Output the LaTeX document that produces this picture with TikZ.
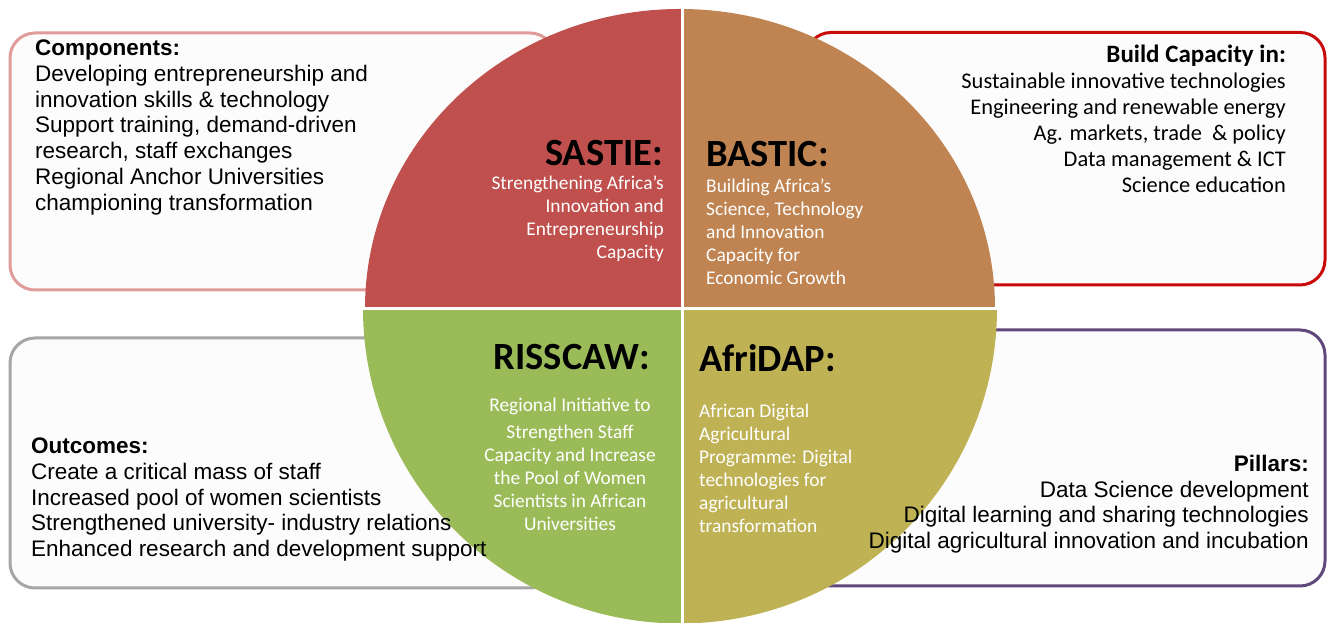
\documentclass[tikz,border=0pt]{standalone}
\usepackage{fontspec}
\setmainfont{Liberation Sans}
\newfontfamily\carlito{Carlito}
\definecolor{sastiec}{HTML}{C0504D}
\definecolor{basticc}{HTML}{BF8451}
\definecolor{risscawc}{HTML}{9BBB59}
\definecolor{afridapc}{HTML}{BFB255}
\definecolor{pinkline}{HTML}{E09C9A}
\definecolor{redline}{HTML}{C80A0A}
\definecolor{greyline}{HTML}{A6A6A6}
\definecolor{purpleline}{HTML}{60497A}
\definecolor{boxfill}{HTML}{FCFCFC}
\begin{document}
\begin{tikzpicture}[x=1pt,y=1pt,
  infobox/.style={draw, line width=3pt, fill=boxfill, rounded corners=25pt, inner sep=0pt, outer sep=0pt, anchor=north west},
  arialtext/.style={inner sep=0pt, font=\fontsize{22.5}{25.75}\selectfont},
  calibritext/.style={inner sep=0pt, font=\carlito\fontsize{22.4}{25.9}\selectfont},
  quadtitle/.style={inner sep=0pt, font=\carlito\bfseries\fontsize{38.5}{40}\selectfont},
  quadsub/.style={inner sep=0pt, text=white, font=\carlito\fontsize{19.4}{23}\selectfont}]
\useasboundingbox (0,0) rectangle (1333,623);
\fill[white] (0,0) rectangle (1333,623);

% side boxes
\node[infobox, draw=pinkline, minimum width=545pt, minimum height=257pt] (compbox) at (10,590) {};
\node[infobox, draw=redline, minimum width=519pt, minimum height=252.5pt] (buildbox) at (806,590.5) {};
\node[infobox, draw=greyline, minimum width=545pt, minimum height=250pt] (outbox) at (10,285) {};
\node[infobox, draw=purpleline, minimum width=519pt, minimum height=256pt] (pillarbox) at (806,293) {};

% circle quadrants
\begin{scope}
  \clip (0,314.5) rectangle (682.5,623);
  \fill[sastiec] (680,314.5) ellipse[x radius=315, y radius=299.5];
\end{scope}
\begin{scope}
  \clip (682.5,314.5) rectangle (1333,623);
  \fill[basticc] (680,314.5) ellipse[x radius=315, y radius=299.5];
\end{scope}
\begin{scope}
  \clip (0,-10) rectangle (682.5,314.5);
  \fill[risscawc] (680,314.5) ellipse[x radius=317, y radius=315];
\end{scope}
\begin{scope}
  \clip (682.5,-10) rectangle (1333,314.5);
  \fill[afridapc] (680,314.5) ellipse[x radius=317, y radius=315];
\end{scope}
\draw[white, line width=3pt] (682.5,-5) -- (682.5,620);
\draw[white, line width=3pt] (355,314.5) -- (1005,314.5);

% box texts
\node[arialtext, anchor=north west, align=left] (comptext) at (35,583.4)
  {\textbf{Components:}\\Developing entrepreneurship and\\innovation skills \& technology\\Support training, demand-driven\\research, staff exchanges\\Regional Anchor Universities\\championing transformation};
\node[calibritext, anchor=north east, align=right] (buildtext) at (1286,578)
  {{\fontsize{25}{25.9}\selectfont\textbf{Build Capacity in:}}\\Sustainable innovative technologies\\Engineering and renewable energy\\Ag. markets, trade\ \ \& policy\\Data management \& ICT\\Science education};
\node[arialtext, anchor=north west, align=left] (outtext) at (31,185.4)
  {\textbf{Outcomes:}\\Create a critical mass of staff\\Increased pool of women scientists\\Strengthened university- industry relations\\Enhanced research and development support};
\node[arialtext, anchor=north east, align=right] (pillartext) at (1309,168.1)
  {\textbf{Pillars:}\\Data Science development\\Digital learning and sharing technologies\\Digital agricultural innovation and incubation};

% quadrant titles
\node[quadtitle, anchor=base east] (sastie) at (663,457.5) {SASTIE:};
\node[quadtitle, anchor=base west] (bastic) at (706,456) {BASTIC:};
\node[quadtitle, anchor=base east] (risscaw) at (650,253) {RISSCAW:};
\node[quadtitle, anchor=base west] (afridap) at (699,251) {AfriDAP:};

% quadrant subtitles
\node[quadsub, anchor=north east, align=right] (sastiesub) at (664,447)
  {Strengthening Africa’s\\Innovation and\\Entrepreneurship\\Capacity};
\node[quadsub, anchor=north west, align=left] (basticsub) at (706,444.7)
  {Building Africa’s\\Science, Technology\\and Innovation\\Capacity for\\Economic Growth};
\node[quadsub, anchor=north, align=center] (risscawsub) at (570,225.3)
  {Regional Initiative to\\[4pt]Strengthen Staff\\Capacity and Increase\\the Pool of Women\\Scientists in African\\Universities};
\node[quadsub, anchor=north west, align=left] (afridapsub) at (699,219)
  {African Digital\\Agricultural\\Programme: Digital\\technologies for\\agricultural\\transformation};
\end{tikzpicture}
\end{document}
